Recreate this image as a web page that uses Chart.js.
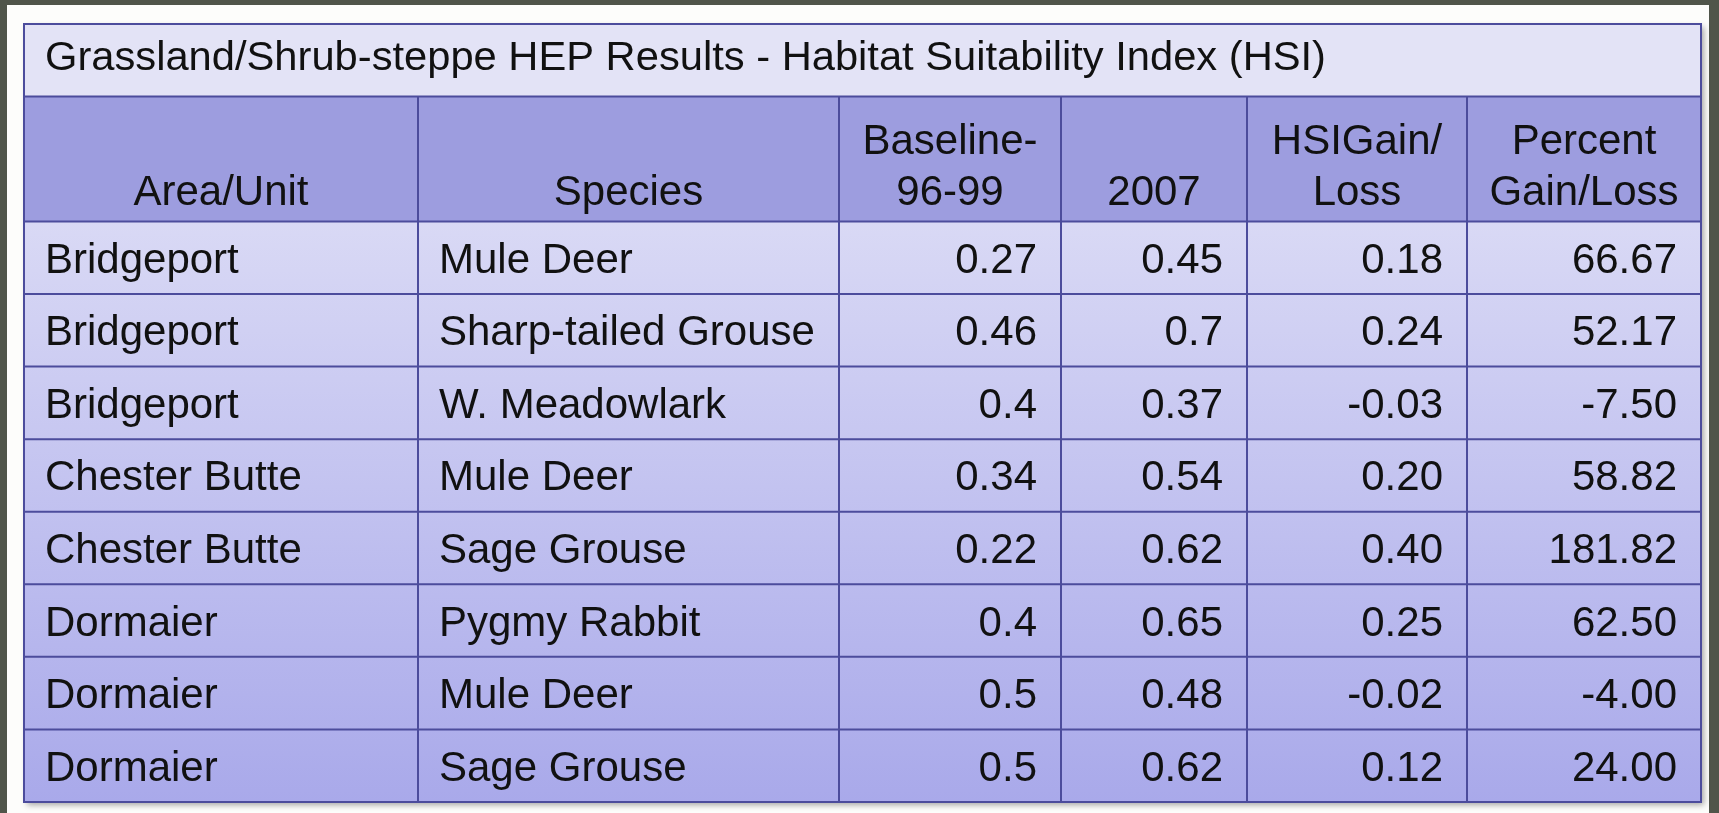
<!DOCTYPE html>
<html>
<head>
<meta charset="utf-8">
<script src="https://cdn.jsdelivr.net/npm/chart.js@4.4.1/dist/chart.umd.min.js"></script>
<style>
    html, body { margin: 0; padding: 0; background: #50554a; overflow: hidden; }
    canvas { display: block; }
</style>
</head>
<body>
<canvas id="hep-table" width="1719" height="813"></canvas>
<script>
// table content
var titleText = "Grassland/Shrub-steppe HEP Results - Habitat Suitability Index (HSI)";
var headers = [["Area/Unit"], ["Species"], ["Baseline-", "96-99"], ["2007"], ["HSIGain/", "Loss"], ["Percent", "Gain/Loss"]];
var areas = ["Bridgeport", "Bridgeport", "Bridgeport", "Chester Butte", "Chester Butte", "Dormaier", "Dormaier", "Dormaier"];
var species = ["Mule Deer", "Sharp-tailed Grouse", "W. Meadowlark", "Mule Deer", "Sage Grouse", "Pygmy Rabbit", "Mule Deer", "Sage Grouse"];
var baseline = [0.27, 0.46, 0.4, 0.34, 0.22, 0.4, 0.5, 0.5];
var hsi2007 = [0.45, 0.7, 0.37, 0.54, 0.62, 0.65, 0.48, 0.62];
var hsiGain = [0.18, 0.24, -0.03, 0.20, 0.40, 0.25, -0.02, 0.12];
var pctGain = [66.67, 52.17, -7.50, 58.82, 181.82, 62.50, -4.00, 24.00];

document.addEventListener("DOMContentLoaded", function() {

    var canvas = document.getElementById("hep-table");
    var ctx = canvas.getContext("2d");

    // layout in scale units (x: column edges, y: row edges)
    var colEdges = [0, 394, 815, 1037, 1223, 1443, 1677];
    var xMax = 1677;
    var titleBottom = 1, headBottom = 2.72;
    var yMax = headBottom + areas.length;
    var font = '"Liberation Sans", Arial, sans-serif';

    function cellText(r, c) {
        if (c === 0) return areas[r];
        if (c === 1) return species[r];
        if (c === 2) return String(baseline[r]);
        if (c === 3) return String(hsi2007[r]);
        if (c === 4) return hsiGain[r].toFixed(2);
        return pctGain[r].toFixed(2);
    }

    // draw text squeezed to a given width when it is wider
    function fitText(c, txt, x, y, w) {
        var m = c.measureText(txt).width;
        var sx = w / m;
        c.save();
        c.translate(x, y);
        c.scale(sx, 1);
        c.fillText(txt, 0, 0);
        c.restore();
    }

    var tablePlugin = {
        id: "hepTable",
        beforeDraw: function(chart) {
            var c = chart.ctx;
            c.save();
            c.fillStyle = "#50554a";
            c.fillRect(0, 0, chart.width, chart.height);
            c.fillStyle = "#fdfdfb";
            c.fillRect(7, 5, 1702, 808);
            c.restore();
        },
        afterDraw: function(chart) {
            var xs = chart.scales.x, ys = chart.scales.y, c = chart.ctx;
            var px = function(v) { return xs.getPixelForValue(v); };
            var py = function(v) { return ys.getPixelForValue(v); };
            var left = px(0), right = px(xMax), top = py(0), bottom = py(yMax);

            c.save();
            // shadow under the table
            c.shadowColor = "rgba(0,0,0,0.35)";
            c.shadowBlur = 6;
            c.shadowOffsetX = 3;
            c.shadowOffsetY = 3;
            c.fillStyle = "#ffffff";
            c.fillRect(left, top, right - left, bottom - top);
            c.restore();

            c.save();
            // title row
            c.fillStyle = "#e3e3f6";
            c.fillRect(left, top, right - left, py(titleBottom) - top);
            // header row
            c.fillStyle = "#9d9ddf";
            c.fillRect(left, py(titleBottom), right - left, py(headBottom) - py(titleBottom));
            // body rows
            var grad = c.createLinearGradient(0, py(headBottom), 0, bottom);
            grad.addColorStop(0, "#d9d9f5");
            grad.addColorStop(1, "#a9a9ea");
            c.fillStyle = grad;
            c.fillRect(left, py(headBottom), right - left, bottom - py(headBottom));

            // grid lines
            c.strokeStyle = "#4c4c9c";
            c.lineWidth = 2;
            c.beginPath();
            var rowEdges = [titleBottom, headBottom];
            for (var r = 1; r < areas.length; r++) rowEdges.push(headBottom + r);
            rowEdges.forEach(function(v) {
                c.moveTo(left, py(v));
                c.lineTo(right, py(v));
            });
            for (var k = 1; k < colEdges.length - 1; k++) {
                c.moveTo(px(colEdges[k]), py(titleBottom));
                c.lineTo(px(colEdges[k]), bottom);
            }
            c.stroke();
            c.strokeRect(left, top, right - left, bottom - top);

            c.fillStyle = "#111111";
            c.textBaseline = "alphabetic";

            // title, fitted to its width
            c.font = "40px " + font;
            c.textAlign = "left";
            fitText(c, titleText, left + 21, top + 46, 1281);

            // header
            c.font = "42px " + font;
            c.textAlign = "center";
            var hb = py(headBottom);
            headers.forEach(function(lines, i) {
                var cx = (px(colEdges[i]) + px(colEdges[i + 1])) / 2;
                for (var j = 0; j < lines.length; j++) {
                    var off = (lines.length - 1 - j) * 51;
                    c.fillText(lines[j], cx, hb - 16 - off);
                }
            });

            // body
            for (var r2 = 0; r2 < areas.length; r2++) {
                var cy = (py(headBottom + r2) + py(headBottom + r2 + 1)) / 2 + 15;
                for (var col = 0; col < 6; col++) {
                    var txt = cellText(r2, col);
                    if (col < 2) {
                        c.textAlign = "left";
                        c.fillText(txt, px(colEdges[col]) + 21, cy);
                    } else {
                        c.textAlign = "right";
                        c.fillText(txt, px(colEdges[col + 1]) - 24, cy);
                    }
                }
            }
            c.restore();
        }
    };

    new Chart(ctx, {
        type: "scatter",
        data: { datasets: [] },
        plugins: [tablePlugin],
        options: {
            responsive: false,
            animation: false,
            layout: { padding: { left: 24, top: 24, right: 18, bottom: 11 } },
            plugins: {
                legend: { display: false },
                tooltip: { enabled: false }
            },
            scales: {
                x: { type: "linear", min: 0, max: xMax, offset: false, display: false },
                y: { type: "linear", min: 0, max: yMax, offset: false, reverse: true, display: false }
            }
        }
    });
});
</script>
</body>
</html>
